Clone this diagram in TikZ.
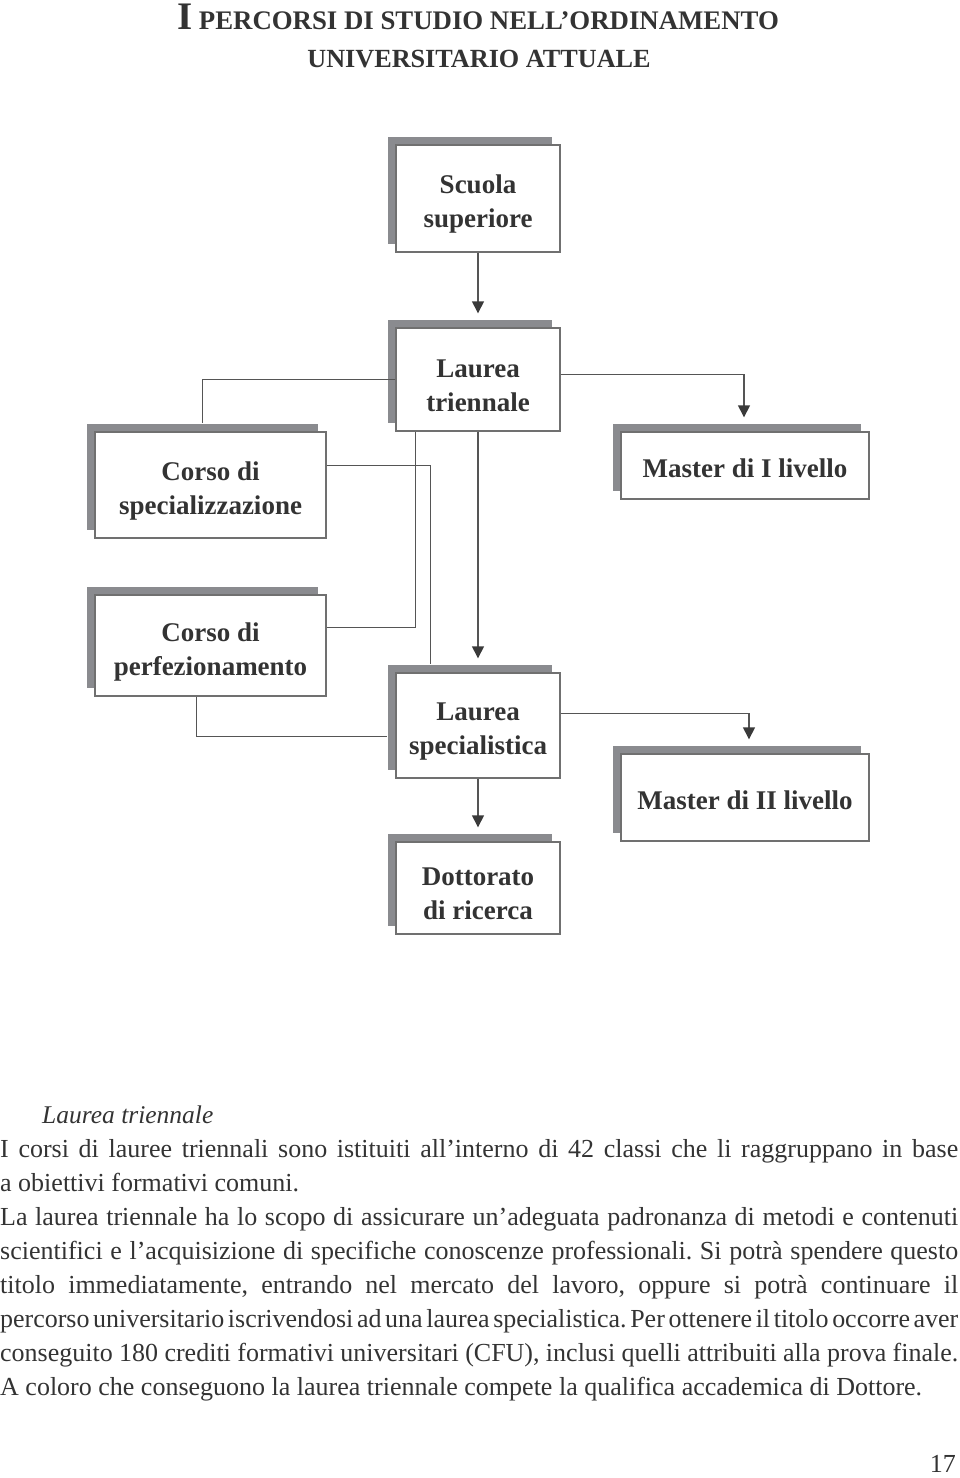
\documentclass[tikz,border=0pt]{standalone}
\usepackage{fontspec}
\setmainfont{Liberation Serif}
\usetikzlibrary{arrows.meta,shadows,calc}
\definecolor{shadowgray}{HTML}{8A8B8F}
\definecolor{boxline}{HTML}{707070}
\definecolor{connc}{HTML}{555555}
\definecolor{tipc}{HTML}{3A3A3A}
\definecolor{txt}{HTML}{333333}
\frenchspacing
\newsavebox\jlbox
\newcommand\jline[1]{\sbox\jlbox{\spaceskip=0.14em\relax #1}%
  \ifdim\wd\jlbox>958pt \resizebox{958pt}{\height}{\usebox\jlbox}%
  \else\makebox[958pt][s]{\spaceskip=0.25em plus 2em minus 0.11em\relax #1}\fi}
\begin{document}
\begin{tikzpicture}[x=1pt,y=-1pt,
  box/.style={draw=boxline, line width=1.4pt, fill=white, inner sep=0pt,
    general shadow={shadow xshift=-8pt, shadow yshift=8pt, fill=shadowgray}},
  boxtext/.style={align=center, text=txt, inner sep=0pt, font=\fontsize{27}{34}\selectfont\bfseries},
  link/.style={draw=connc, line width=1.4pt},
  arr/.style={link, -{Triangle[length=12pt,width=12pt,color=tipc]}, shorten >=14pt},
  body/.style={anchor=base west, inner sep=0pt, text=txt,
    font=\fontsize{26}{34}\selectfont},
  ttl/.style={anchor=base, inner sep=0pt, text=txt, font=\bfseries}]
\useasboundingbox (0,0) rectangle (960,1478);

% title
\node[ttl] (title1) at (478,29) {\fontsize{39}{40}\selectfont I\fontsize{26.8}{30}\selectfont\ PERCORSI DI STUDIO NELL’ORDINAMENTO};
\node[ttl] (title2) at (479,67) {\fontsize{26.2}{30}\selectfont UNIVERSITARIO ATTUALE};

% boxes
\node[box, minimum width=164pt, minimum height=107pt] (ss) at (478,198.5) {};
\node[box, minimum width=164pt, minimum height=103pt] (lt) at (478,379.5) {};
\node[box, minimum width=248pt, minimum height=67pt] (m1) at (745,465.5) {};
\node[box, minimum width=231pt, minimum height=106pt] (cs) at (210.5,485) {};
\node[box, minimum width=231pt, minimum height=101pt] (cp) at (210.5,645.5) {};
\node[box, minimum width=164pt, minimum height=105pt] (ls) at (478,725.5) {};
\node[box, minimum width=248pt, minimum height=87pt] (m2) at (745,797.5) {};
\node[box, minimum width=164pt, minimum height=92pt] (dr) at (478,888) {};

% box texts
\node[boxtext] (ssT) at ($(ss.center)+(0,6)$) {Scuola\\superiore};
\node[boxtext] (ltT) at ($(lt.center)+(0,6)$) {Laurea\\triennale};
\node[boxtext] (m1T) at ($(m1.center)+(0,3)$) {Master di I livello};
\node[boxtext] (csT) at ($(cs.center)+(0,6)$) {Corso di\\specializzazione};
\node[boxtext] (cpT) at ($(cp.center)+(0,6)$) {Corso di\\perfezionamento};
\node[boxtext] (lsT) at ($(ls.center)+(0,6)$) {Laurea\\specialistica};
\node[boxtext] (m2T) at ($(m2.center)+(0,3)$) {Master di II livello};
\node[boxtext] (drT) at ($(dr.center)+(0,6)$) {Dottorato\\di ricerca};

% connectors
\draw[arr] (ss.south) -- (lt.north);
\draw[arr] ($(lt.east)+(0,-5)$) -| ($(m1.north)+(-1,0)$);
\draw[link] (lt.west) -| ($(cs.north west)+(108,-8)$);
\draw[link] ($(lt.south west)+(20,0)$) |- ($(cp.north east)+(0,33)$);
\draw[arr] (lt.south) -- (ls.north);
\draw[link] ($(cs.north east)+(0,34)$) -| ($(ls.north west)+(35,-8)$);
\draw[link] ($(cp.south west)+(102,0)$) |- ($(ls.north west)+(-8,64)$);
\draw[arr] ($(ls.east)+(0,-12)$) -| ($(m2.north)+(4,0)$);
\draw[arr] (ls.south) -- (dr.north);

% body text
\node[body, font=\fontsize{25.5}{34}\selectfont\itshape] (t0) at (42,1123) {Laurea triennale};
\node[body] (t1) at (0,1157) {\jline{I corsi di lauree triennali sono istituiti all’interno di 42 classi che li raggruppano in base}};
\node[body] (t2) at (0,1191) {a obiettivi formativi comuni.};
\node[body] (t3) at (0,1225) {\jline{La laurea triennale ha lo scopo di assicurare un’adeguata padronanza di metodi e contenuti}};
\node[body] (t4) at (0,1259) {\jline{scientifici e l’acquisizione di specifiche conoscenze professionali. Si potrà spendere questo}};
\node[body] (t5) at (0,1293) {\jline{titolo immediatamente, entrando nel mercato del lavoro, oppure si potrà continuare il}};
\node[body] (t6) at (0,1327) {\jline{percorso universitario iscrivendosi ad una laurea specialistica. Per ottenere il titolo occorre aver}};
\node[body] (t7) at (0,1361) {\jline{conseguito 180 crediti formativi universitari (CFU), inclusi quelli attribuiti alla prova finale.}};
\node[body] (t8) at (0,1395) {A coloro che conseguono la laurea triennale compete la qualifica accademica di Dottore.};

\node[body, anchor=base east] (pn) at (956,1472) {17};
\end{tikzpicture}
\end{document}
